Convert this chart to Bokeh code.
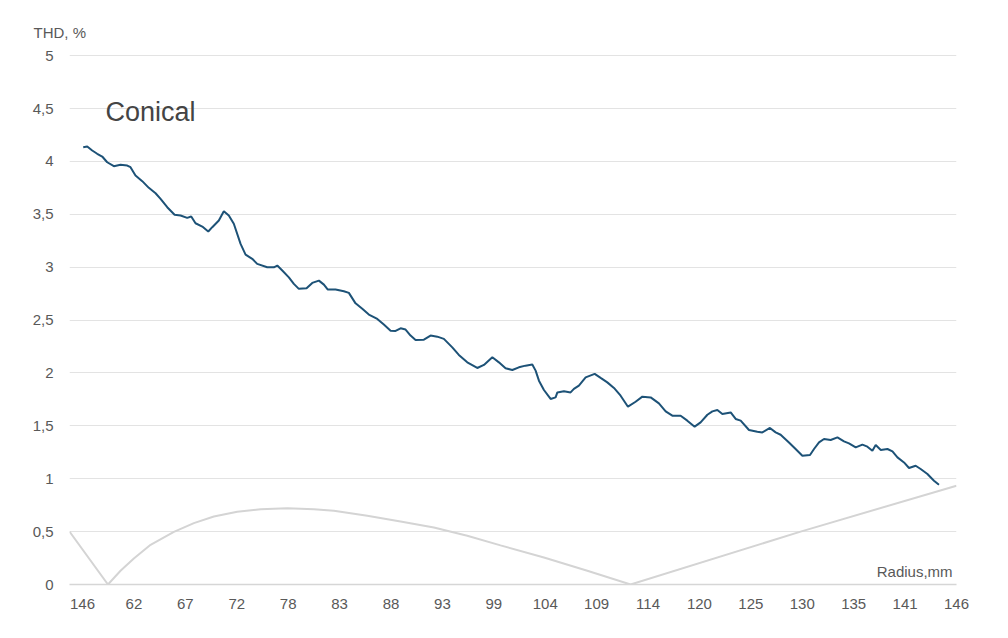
from bokeh.plotting import figure
from bokeh.models import Range1d, FixedTicker, CustomJSTickFormatter, Label
from bokeh.embed import file_html
from bokeh.resources import INLINE

# ---- data ----
thd_radius = [56.82, 57.23, 57.74, 58.25, 58.76, 59.27, 59.95, 60.63, 61.32, 61.65,
              62.16, 62.85, 63.52, 64.21, 64.72, 65.40, 66.15, 66.76, 67.44, 67.85,
              68.29, 68.98, 69.59, 70.00, 70.67, 71.18, 71.69, 72.20, 72.89, 73.40,
              74.08, 74.59, 75.61, 76.29, 76.64, 77.15, 77.82, 78.33, 78.84, 79.63,
              80.21, 80.89, 81.40, 81.80, 82.59, 83.44, 83.95, 84.63, 85.32, 85.99,
              86.85, 87.52, 88.21, 88.72, 89.23, 89.74, 90.25, 90.76, 91.61, 92.29,
              92.98, 93.65, 94.51, 95.18, 96.04, 97.06, 97.74, 98.60, 99.27, 99.95,
              100.64, 101.31, 101.99, 102.68, 103.02, 103.36, 103.87, 104.55, 105.06, 105.24,
              105.91, 106.59, 106.93, 107.44, 108.13, 109.05, 109.66, 110.34, 111.02, 111.70,
              112.45, 113.23, 113.92, 114.77, 115.61, 116.30, 116.98, 117.83, 118.51, 119.26,
              119.87, 120.56, 121.07, 121.58, 122.09, 122.94, 123.45, 123.96, 124.81, 125.66,
              126.17, 126.95, 127.53, 128.04, 128.89, 129.57, 130.26, 131.04, 131.45, 131.96,
              132.47, 133.15, 133.84, 134.51, 135.02, 135.71, 136.39, 136.90, 137.41, 137.75,
              138.27, 138.95, 139.46, 139.97, 140.64, 141.15, 141.83, 142.34, 143.03, 143.70,
              144.21]
thd_value = [4.134, 4.141, 4.103, 4.072, 4.046, 3.992, 3.955, 3.968, 3.961, 3.945,
             3.867, 3.813, 3.750, 3.699, 3.646, 3.567, 3.495, 3.488, 3.466, 3.479,
             3.415, 3.384, 3.337, 3.378, 3.441, 3.529, 3.488, 3.410, 3.220, 3.119,
             3.079, 3.031, 2.999, 2.999, 3.015, 2.968, 2.904, 2.842, 2.795, 2.800,
             2.851, 2.873, 2.835, 2.788, 2.788, 2.772, 2.757, 2.658, 2.606, 2.552,
             2.511, 2.457, 2.400, 2.397, 2.422, 2.410, 2.353, 2.312, 2.315, 2.353,
             2.343, 2.322, 2.242, 2.170, 2.100, 2.047, 2.076, 2.148, 2.100, 2.044,
             2.028, 2.053, 2.069, 2.079, 2.022, 1.927, 1.839, 1.754, 1.769, 1.816,
             1.826, 1.816, 1.849, 1.880, 1.958, 1.991, 1.953, 1.911, 1.858, 1.785,
             1.681, 1.728, 1.776, 1.769, 1.712, 1.637, 1.596, 1.596, 1.549, 1.492,
             1.533, 1.605, 1.637, 1.650, 1.612, 1.627, 1.565, 1.549, 1.461, 1.445,
             1.438, 1.480, 1.438, 1.416, 1.343, 1.281, 1.218, 1.224, 1.281, 1.343,
             1.376, 1.366, 1.391, 1.353, 1.334, 1.296, 1.322, 1.303, 1.265, 1.319,
             1.272, 1.281, 1.258, 1.202, 1.154, 1.101, 1.123, 1.092, 1.044, 0.981,
             0.943]

err_radius = [55.42, 59.35, 60.63, 61.99, 63.70, 66.08, 68.12, 70.16, 72.55, 74.93,
              77.66, 80.37, 82.42, 85.83, 89.23, 92.63, 96.04, 99.44, 103.87, 108.30,
              112.72, 130.08, 146.0]
err_value = [0.50, 0.0, 0.13, 0.246, 0.375, 0.498, 0.580, 0.643, 0.687, 0.712,
             0.721, 0.712, 0.697, 0.650, 0.596, 0.539, 0.461, 0.37, 0.255, 0.130,
             0.0, 0.50, 0.934]

x_ticks = [56.75, 62.0, 67.25, 72.5, 77.75, 83.0, 88.25, 93.5, 98.75, 104.0,
           109.25, 114.5, 119.75, 125.0, 130.25, 135.5, 140.75, 146.0]
x_labels = ["146", "62", "67", "72", "78", "83", "88", "93", "99", "104",
            "109", "114", "120", "125", "130", "135", "141", "146"]
y_ticks = [0, 0.5, 1, 1.5, 2, 2.5, 3, 3.5, 4, 4.5, 5]

FONT = "Liberation Sans"
TXT = "#595959"

p = figure(width=992, height=622, output_backend="svg", toolbar_location=None,
           x_range=Range1d(55.42, 146.0), y_range=Range1d(0, 5.02),
           min_border_left=69, min_border_right=36, min_border_top=53, min_border_bottom=38)
p.outline_line_color = None
p.background_fill_color = "white"

p.title.text = "THD, %"
p.title.align = "left"
p.title.offset = -36
p.title.standoff = 25
p.title.text_font = FONT
p.title.text_font_size = "15px"
p.title.text_font_style = "normal"
p.title.text_color = TXT

p.line(err_radius, err_value, line_color="#d4d4d4", line_width=2)
p.line(thd_radius, thd_value, line_color="#1d5277", line_width=2)

p.xaxis.ticker = FixedTicker(ticks=x_ticks)
p.xaxis.formatter = CustomJSTickFormatter(args=dict(labels=x_labels), code="return labels[index];")
p.xaxis.major_tick_line_color = None
p.xaxis.minor_tick_line_color = None
p.xaxis.axis_line_color = "#d6d6d6"
p.xaxis.axis_line_width = 1.5
p.xaxis.major_label_standoff = 8
p.xaxis.major_label_text_font = FONT
p.xaxis.major_label_text_font_size = "15px"
p.xaxis.major_label_text_color = TXT

p.yaxis.ticker = FixedTicker(ticks=y_ticks)
p.yaxis.formatter = CustomJSTickFormatter(code="return tick.toString().replace('.', ',');")
p.yaxis.major_tick_line_color = None
p.yaxis.minor_tick_line_color = None
p.yaxis.axis_line_color = None
p.yaxis.major_label_standoff = 10
p.yaxis.major_label_text_font = FONT
p.yaxis.major_label_text_font_size = "15px"
p.yaxis.major_label_text_color = TXT

p.xgrid.grid_line_color = None
p.ygrid.ticker = FixedTicker(ticks=y_ticks)
p.ygrid.grid_line_color = "#e3e3e3"
p.ygrid.grid_line_width = 1

p.add_layout(Label(x=145.6, y=0.125, text="Radius,mm", text_font=FONT, text_font_size="15px",
                   text_color=TXT, text_align="right", text_baseline="alphabetic"))
p.add_layout(Label(x=59.1, y=4.47, text="Conical", text_font=FONT, text_font_size="27px",
                   text_color="#444444", text_align="left", text_baseline="alphabetic"))

open("out.html", "w").write(file_html(p, INLINE))
